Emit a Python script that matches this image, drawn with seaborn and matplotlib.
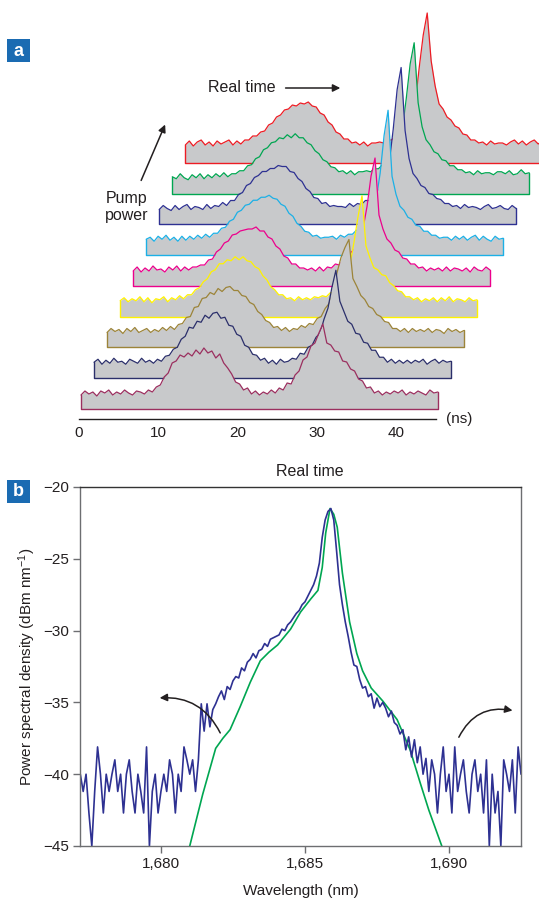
import numpy as np
import matplotlib
matplotlib.use("Agg")
import matplotlib.pyplot as plt
from matplotlib.patches import Rectangle
from matplotlib import font_manager
import seaborn as sns

# ---------------- panel a : pulse traces, bottom (low pump) to top (high pump)
# heights above each trace's own baseline, sampled every 0.5 ns from trace start
trace_colors = ["#9b2f5f", "#2b2f6b", "#9c8439", "#fff200", "#ec008c",
                "#1cb0e6", "#2e3192", "#00a651", "#ed1c24"]

trace_1 = [14, 18, 15, 17, 13, 18, 16, 19, 14, 17,
           15, 19, 16, 14, 18, 17, 15, 19, 17, 22,
           24, 32, 36, 46, 48, 54, 52, 56, 53, 59,
           55, 61, 56, 58, 51, 55, 46, 41, 35, 27,
           25, 19, 21, 15, 18, 14, 17, 15, 19, 16,
           21, 19, 26, 25, 34, 38, 49, 52, 63, 66,
           76, 85, 66, 64, 58, 57, 48, 47, 40, 38,
           30, 28, 21, 22, 16, 18, 14, 17, 15, 18,
           16, 19, 14, 17, 15, 18, 16, 14, 19, 16, 17]
trace_2 = [16, 19, 14, 18, 15, 20, 16, 17, 14, 19,
           17, 15, 20, 16, 18, 15, 19, 17, 22, 23,
           29, 31, 39, 42, 51, 50, 57, 56, 63, 60,
           65, 66, 60, 61, 53, 52, 44, 42, 33, 31,
           24, 23, 18, 20, 15, 18, 14, 19, 16, 17,
           20, 19, 25, 24, 31, 33, 41, 45, 59, 70,
           91, 108, 77, 67, 57, 54, 45, 44, 36, 35,
           28, 28, 21, 21, 16, 19, 15, 18, 15, 18,
           15, 18, 16, 19, 14, 17, 19, 15, 18, 16, 17]
trace_3 = [15, 19, 16, 18, 14, 19, 16, 20, 15, 17,
           19, 15, 18, 16, 20, 17, 21, 18, 23, 24,
           30, 31, 40, 41, 49, 50, 55, 53, 59, 56,
           60, 61, 57, 57, 52, 51, 45, 43, 36, 33,
           27, 25, 20, 21, 17, 20, 16, 19, 18, 22,
           20, 24, 23, 29, 31, 39, 44, 56, 75, 90,
           100, 108, 69, 61, 52, 48, 41, 39, 33, 31,
           26, 25, 19, 19, 16, 19, 15, 19, 16, 18,
           16, 19, 15, 18, 17, 14, 19, 16, 18, 15, 17]
trace_4 = [16, 19, 15, 18, 16, 20, 15, 19, 14, 18,
           17, 20, 15, 19, 17, 21, 18, 22, 22, 27,
           29, 35, 38, 45, 47, 53, 53, 57, 56, 60,
           57, 60, 56, 55, 50, 48, 41, 37, 30, 27,
           22, 22, 18, 19, 16, 20, 17, 19, 17, 20,
           19, 21, 20, 24, 24, 30, 32, 41, 52, 75,
           100, 121, 71, 59, 49, 47, 42, 41, 34, 31,
           26, 25, 20, 20, 17, 19, 15, 18, 16, 19,
           15, 19, 16, 20, 15, 18, 17, 15, 19, 16, 17]
trace_5 = [15, 19, 14, 18, 15, 20, 16, 17, 14, 19,
           16, 20, 15, 19, 16, 19, 19, 21, 21, 26,
           27, 34, 37, 43, 45, 51, 52, 55, 56, 57,
           57, 59, 55, 55, 49, 47, 40, 37, 30, 28,
           22, 22, 18, 18, 16, 18, 15, 19, 15, 19,
           18, 22, 21, 26, 27, 34, 37, 47, 58, 80,
           110, 128, 71, 57, 47, 43, 36, 34, 28, 27,
           22, 22, 18, 19, 15, 18, 16, 18, 15, 19,
           15, 18, 17, 15, 18, 14, 19, 16, 15, 19, 16]
trace_6 = [16, 18, 14, 19, 16, 20, 15, 18, 14, 19,
           15, 19, 16, 20, 17, 21, 18, 22, 22, 27,
           28, 34, 36, 43, 45, 50, 51, 55, 55, 58,
           58, 60, 57, 56, 51, 49, 42, 39, 32, 29,
           24, 23, 19, 20, 17, 18, 18, 19, 16, 20,
           18, 21, 21, 25, 26, 32, 35, 45, 56, 82,
           120, 145, 79, 61, 49, 45, 38, 36, 30, 29,
           24, 24, 20, 20, 17, 18, 18, 15, 19, 16,
           19, 15, 18, 20, 15, 19, 16, 14, 19, 16, 17]
trace_7 = [15, 19, 16, 14, 19, 15, 18, 20, 15, 18,
           17, 15, 20, 16, 19, 18, 22, 19, 24, 24,
           30, 32, 39, 41, 47, 49, 53, 53, 56, 56,
           59, 58, 58, 53, 52, 46, 43, 36, 33, 27,
           26, 21, 22, 18, 19, 18, 18, 17, 21, 18,
           21, 20, 24, 24, 29, 31, 39, 45, 62, 95,
           135, 157, 94, 66, 51, 46, 39, 37, 31, 30,
           26, 25, 21, 21, 18, 19, 16, 20, 17, 18,
           17, 15, 18, 20, 16, 17, 19, 16, 15, 19, 16]
trace_8 = [17, 15, 20, 16, 14, 19, 16, 20, 15, 19,
           16, 20, 17, 21, 17, 20, 20, 23, 23, 28,
           29, 35, 37, 44, 46, 51, 52, 56, 55, 59,
           56, 60, 56, 56, 51, 49, 43, 40, 34, 32,
           27, 26, 22, 23, 20, 23, 19, 22, 22, 23,
           22, 25, 25, 29, 30, 36, 39, 49, 64, 95,
           130, 151, 91, 67, 54, 49, 42, 40, 34, 33,
           28, 28, 24, 24, 21, 22, 19, 23, 20, 21,
           21, 19, 22, 22, 20, 23, 19, 20, 24, 20, 21]
trace_9 = [18, 22, 17, 21, 23, 18, 21, 17, 22, 19,
           21, 23, 18, 22, 19, 23, 23, 27, 27, 31,
           32, 38, 40, 46, 48, 53, 54, 58, 57, 60,
           59, 61, 57, 56, 50, 48, 41, 38, 31, 29,
           24, 24, 20, 21, 18, 21, 17, 20, 20, 21,
           20, 23, 23, 27, 28, 34, 37, 46, 60, 96,
           128, 150, 102, 77, 59, 54, 46, 43, 37, 35,
           29, 28, 23, 23, 20, 21, 18, 22, 19, 20,
           20, 18, 21, 23, 19, 22, 18, 21, 23, 19, 22]
traces = [trace_1, trace_2, trace_3, trace_4, trace_5,
          trace_6, trace_7, trace_8, trace_9]
time_ticks = [0, 10, 20, 30, 40]

# ---------------- panel b : spectra
green_wl = [1681.0, 1681.45, 1681.9, 1682.15, 1682.4, 1682.75, 1683.1, 1683.45,
            1683.75, 1684.05, 1684.5, 1684.85, 1685.2, 1685.45, 1685.6, 1685.72,
            1685.87, 1686.0, 1686.12, 1686.3, 1686.55, 1686.8, 1687.0, 1687.3,
            1687.7, 1688.2, 1688.65, 1689.0, 1689.3, 1689.75]
green_db = [-45, -41.4, -38.2, -37.5, -36.9, -35.3, -33.6, -32.1,
            -31.5, -31.0, -29.9, -28.7, -27.8, -27.2, -25.6, -23.2,
            -21.5, -21.9, -22.8, -26.0, -29.4, -31.6, -32.8, -34.0,
            -34.9, -36.2, -38.3, -40.6, -42.5, -45]
# measured spectrum, 0.1 nm steps starting at 1677.2 nm
blue_db = [-40.0, -41.2, -40.0, -42.7, -45.0, -41.2, -38.1, -40.0,
           -42.7, -40.0, -41.2, -40.0, -39.0, -41.2, -40.0, -42.7, -40.0, -39.0,
           -41.2, -42.7, -40.0, -41.2, -42.7, -38.1, -45.0, -41.2, -40.0, -42.7,
           -41.2, -40.0, -41.2, -39.0, -40.0, -42.7, -40.0, -41.2, -38.1, -39.0,
           -40.0, -39.0, -41.2, -39.0, -35.1, -37.0, -35.1, -36.7, -35.5, -35.1,
           -34.6, -34.2, -34.8, -33.9, -34.1, -33.5, -33.2, -33.3, -32.6, -32.8,
           -32.2, -32.0, -31.6, -31.9, -31.4, -31.3, -30.9, -31.1, -30.6, -30.5,
           -30.4, -30.3, -29.9, -30.0, -29.6, -29.4, -29.1, -28.8, -28.6, -28.2,
           -28.0, -27.6, -27.2, -26.8, -26.2, -25.3, -23.5, -22.3, -21.7, -21.5,
           -22.3, -24.5, -26.8, -28.2, -29.4, -30.4, -31.5, -32.4, -32.5, -33.4,
           -34.0, -33.9, -34.6, -34.4, -35.4, -34.7, -35.3, -35.0, -35.4, -36.0,
           -35.6, -36.4, -36.6, -37.2, -36.9, -38.3, -37.4, -38.8, -37.6, -39.2,
           -38.1, -40.0, -38.9, -41.2, -39.0, -40.0, -42.7, -40.0, -38.1, -41.2,
           -40.0, -42.7, -38.1, -41.2, -40.0, -39.0, -41.2, -42.7, -40.0, -39.0,
           -41.2, -40.0, -42.7, -39.0, -45.0, -40.0, -42.7, -41.2, -45.0, -39.0,
           -40.0, -41.2, -39.0, -42.7, -38.1, -40.0, -39.0]
wl_ticks = [1680, 1685, 1690]
wl_labels = ["1,680", "1,685", "1,690"]
db_ticks = [-45, -40, -35, -30, -25, -20]

# ---------------- style
sns.set_style("white")
names = {f.name for f in font_manager.fontManager.ttflist}
main_font = "Liberation Sans Narrow" if "Liberation Sans Narrow" in names else "Liberation Sans"
plt.rcParams["font.family"] = [main_font, "DejaVu Sans"]
plt.rcParams["mathtext.fontset"] = "custom"
plt.rcParams["mathtext.rm"] = main_font
plt.rcParams["mathtext.default"] = "regular"
txt = "#231f20"

W, H = 539, 900
fig = plt.figure(figsize=(W / 100, H / 100), dpi=100)

# ---------------- panel a
px_per_ns = 7.93
axa = fig.add_axes([79 / W, 1 - 419 / H, (W - 79) / W, 419 / H])
axa.set_xlim(0, (W - 79) / px_per_ns)
axa.set_ylim(0, 419)
t_ns = np.arange(len(trace_1)) * 0.5
n = len(traces)
for k in reversed(range(n)):
    x0 = 0.25 + 1.645 * k
    base = 10 + 30.75 * k
    x = x0 + t_ns
    y = base + np.asarray(traces[k], dtype=float)
    z = 10 + (n - k) * 2
    axa.fill_between(x, base, y, color="#c8c9cb", lw=0, zorder=z)
    axa.plot([x[0], x[0], x[-1], x[-1]], [y[0], base, base, y[-1]],
             color=trace_colors[k], lw=1.0, zorder=z + 0.5)
    sns.lineplot(x=x, y=y, color=trace_colors[k], lw=0.9, ax=axa, zorder=z + 1)

for s in ["left", "top", "right"]:
    axa.spines[s].set_visible(False)
axa.spines["bottom"].set_bounds(0, 45)
axa.spines["bottom"].set_color(txt)
axa.spines["bottom"].set_linewidth(1.0)
axa.set_xticks(time_ticks)
axa.set_yticks([])
axa.tick_params(axis="x", direction="in", length=4, width=1, color=txt,
                labelsize=11, labelcolor=txt, pad=5)
axa.text(46.3, 0, "(ns)", ha="left", va="center", fontsize=11, color=txt)
axa.text(16.3, 331, "Real time", ha="left", va="center", fontsize=11.5, color=txt)
axa.annotate("", xy=(33.3, 331), xytext=(25.7, 331),
             arrowprops=dict(arrowstyle="-|>", color=txt, lw=1.1, mutation_scale=11))
axa.annotate("", xy=(11.0, 297), xytext=(7.7, 236),
             arrowprops=dict(arrowstyle="-|>", color=txt, lw=1.1, mutation_scale=11))
axa.text(6.05, 212, "Pump\npower", ha="center", va="center", fontsize=11.5,
         color=txt, linespacing=1.15)

fig.text(310 / W, 1 - 471 / H, "Real time", ha="center", va="center",
         fontsize=11.5, color=txt)

# ---------------- panel b
axb = fig.add_axes([80 / W, 1 - 846 / H, (521 - 80) / W, (846 - 487) / H])
blue_wl = np.round(1677.2 + 0.1 * np.arange(len(blue_db)), 2)
sns.lineplot(x=green_wl, y=green_db, color="#00a651", lw=1.2, ax=axb)
sns.lineplot(x=blue_wl, y=blue_db, color="#2e3192", lw=1.2, ax=axb)
axb.set_xlim(1677.19, 1692.5)
axb.set_ylim(-45, -20)
axb.set_xticks(wl_ticks)
axb.set_xticklabels(wl_labels)
axb.set_yticks(db_ticks)
axb.tick_params(direction="out", length=5, width=1, color="#6d6e71",
                labelsize=11, labelcolor=txt, pad=3)
axb.tick_params(axis="both", which="both", bottom=True, left=True)
for s in ["left", "bottom", "right"]:
    axb.spines[s].set_color("#6d6e71")
    axb.spines[s].set_linewidth(1.0)
axb.spines["top"].set_color("#333333")
axb.spines["top"].set_linewidth(1.0)
axb.set_xlabel("Wavelength (nm)", fontsize=11, color=txt, labelpad=9)
axb.set_ylabel("Power spectral density (dBm nm$^{-1}$)", fontsize=11, color=txt)
axb.yaxis.set_label_coords(-0.095, 0.5)
axb.annotate("", xy=(1679.86, -34.7), xytext=(1682.1, -37.3),
             arrowprops=dict(arrowstyle="-|>", color=txt, lw=1.1, mutation_scale=11,
                             connectionstyle="arc3,rad=0.35"))
axb.annotate("", xy=(1692.3, -35.6), xytext=(1690.3, -37.6),
             arrowprops=dict(arrowstyle="-|>", color=txt, lw=1.1, mutation_scale=11,
                             connectionstyle="arc3,rad=-0.4"))

# panel letters
for lab, ytop in [("a", 39), ("b", 480)]:
    fig.add_artist(Rectangle((7 / W, 1 - (ytop + 23) / H), 23 / W, 23 / H,
                             transform=fig.transFigure, fc="#1a6bb2", ec="none"))
    fig.text(18.5 / W, 1 - (ytop + 12) / H, lab, ha="center", va="center",
             color="white", fontsize=13, fontweight="bold")

fig.savefig("out.png", dpi=100)
